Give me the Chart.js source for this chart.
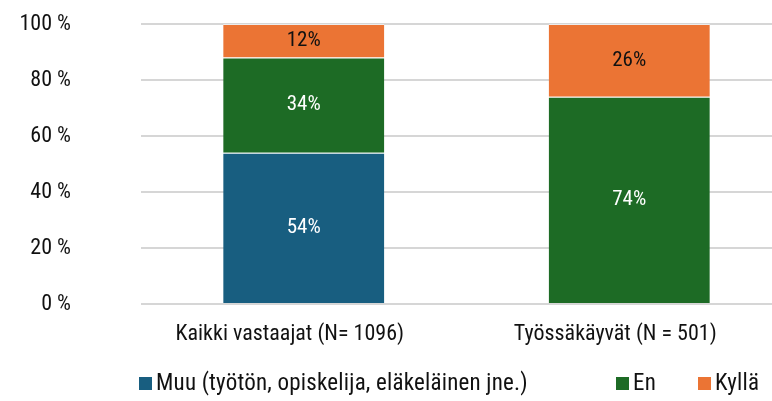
<!DOCTYPE html>
<html>
<head>
<meta charset="utf-8">
<script src="https://cdn.jsdelivr.net/npm/chart.js@4"></script>
<style>
  html, body { margin: 0; padding: 0; background: #fff; overflow: hidden; }
  #wrap { position: relative; width: 772px; height: 401px; overflow: hidden; }
  canvas { position: absolute; left: 0; top: 0; }
  .lg { position: absolute; top: 370px; height: 26px; line-height: 26px; font-size: 23px; letter-spacing: 0.2px; color: #111;
        font-family: 'Roboto Condensed', Roboto, sans-serif; white-space: nowrap; }
  .lg i { position: absolute; top: 7px; width: 13px; height: 13px; }
</style>
</head>
<body>
<div id="wrap">
  <canvas id="c" width="792" height="401"></canvas>
</div>
<script>
const FONT = "'Roboto Condensed', Roboto, sans-serif";
const categories = ['Kaikki vastaajat (N= 1096)', 'Työssäkäyvät (N = 501)'];
const seriesNames = ['Muu (työtön, opiskelija, eläkeläinen jne.)', 'En', 'Kyllä'];
const muu = [54, 0];
const en = [34, 74];
const kylla = [12, 26];
const yTicks = [0, 20, 40, 60, 80, 100];
const colors = ['#185e80', '#1d6b25', '#eb7434'];
const labelColors = ['#ffffff', '#ffffff', '#111111'];
const legendX = [139, 616, 698];

const seriesValues = [muu, en, kylla];

const dataLabels = {
  id: 'dataLabels',
  afterDatasetsDraw(chart) {
    const ctx = chart.ctx;
    ctx.save();
    ctx.font = '21px ' + FONT;
    ctx.textAlign = 'center';
    ctx.textBaseline = 'middle';
    chart.data.datasets.forEach((ds, di) => {
      const meta = chart.getDatasetMeta(di);
      meta.data.forEach((el, i) => {
        const v = ds.data[i];
        if (!v) return;
        const p = el.getProps(['x', 'y', 'base'], true);
        ctx.fillStyle = labelColors[di];
        ctx.fillText(v + '%', p.x, (p.y + p.base) / 2);
      });
    });
    ctx.restore();
  }
};

new Chart(document.getElementById('c'), {
  type: 'bar',
  data: {
    labels: categories,
    datasets: seriesNames.map((n, i) => ({
      label: n,
      data: seriesValues[i],
      backgroundColor: colors[i],
      borderColor: 'rgba(255,255,255,0.55)',
      borderWidth: { top: 1, bottom: 0, left: 0, right: 0 },
      borderSkipped: false,
      barPercentage: 0.495,
      categoryPercentage: 1
    }))
  },
  options: {
    responsive: false,
    animation: false,
    layout: { padding: { top: 24, left: 0, right: 0, bottom: 0 } },
    plugins: { legend: { display: false }, tooltip: { enabled: false } },
    scales: {
      x: {
        stacked: true,
        grid: { display: false, drawTicks: false },
        border: { display: false },
        ticks: { color: '#111', font: { family: FONT, size: 22 }, padding: 17, maxRotation: 0, labelOffset: -14 },
        afterFit(s) { s.height = 97; }
      },
      y: {
        stacked: true,
        min: 0, max: 100,
        afterBuildTicks(s) { s.ticks = yTicks.map(v => ({ value: v })); },
        grid: { color: '#d6d6d6', lineWidth: 2, drawTicks: false },
        border: { display: false },
        ticks: { color: '#111', font: { family: FONT, size: 22 }, padding: 70, callback: v => v + ' %' },
        afterFit(s) { s.width = 141; s.paddingTop = 0; s.paddingBottom = 0; }
      }
    }
  },
  plugins: [dataLabels]
});

const wrap = document.getElementById('wrap');
seriesNames.forEach((n, i) => {
  const d = document.createElement('div');
  d.className = 'lg';
  d.style.left = legendX[i] + 'px';
  d.style.paddingLeft = '17px';
  const box = document.createElement('i');
  box.style.left = '0px';
  box.style.background = colors[i];
  d.appendChild(box);
  d.appendChild(document.createTextNode(n));
  wrap.appendChild(d);
});
</script>
</body>
</html>
